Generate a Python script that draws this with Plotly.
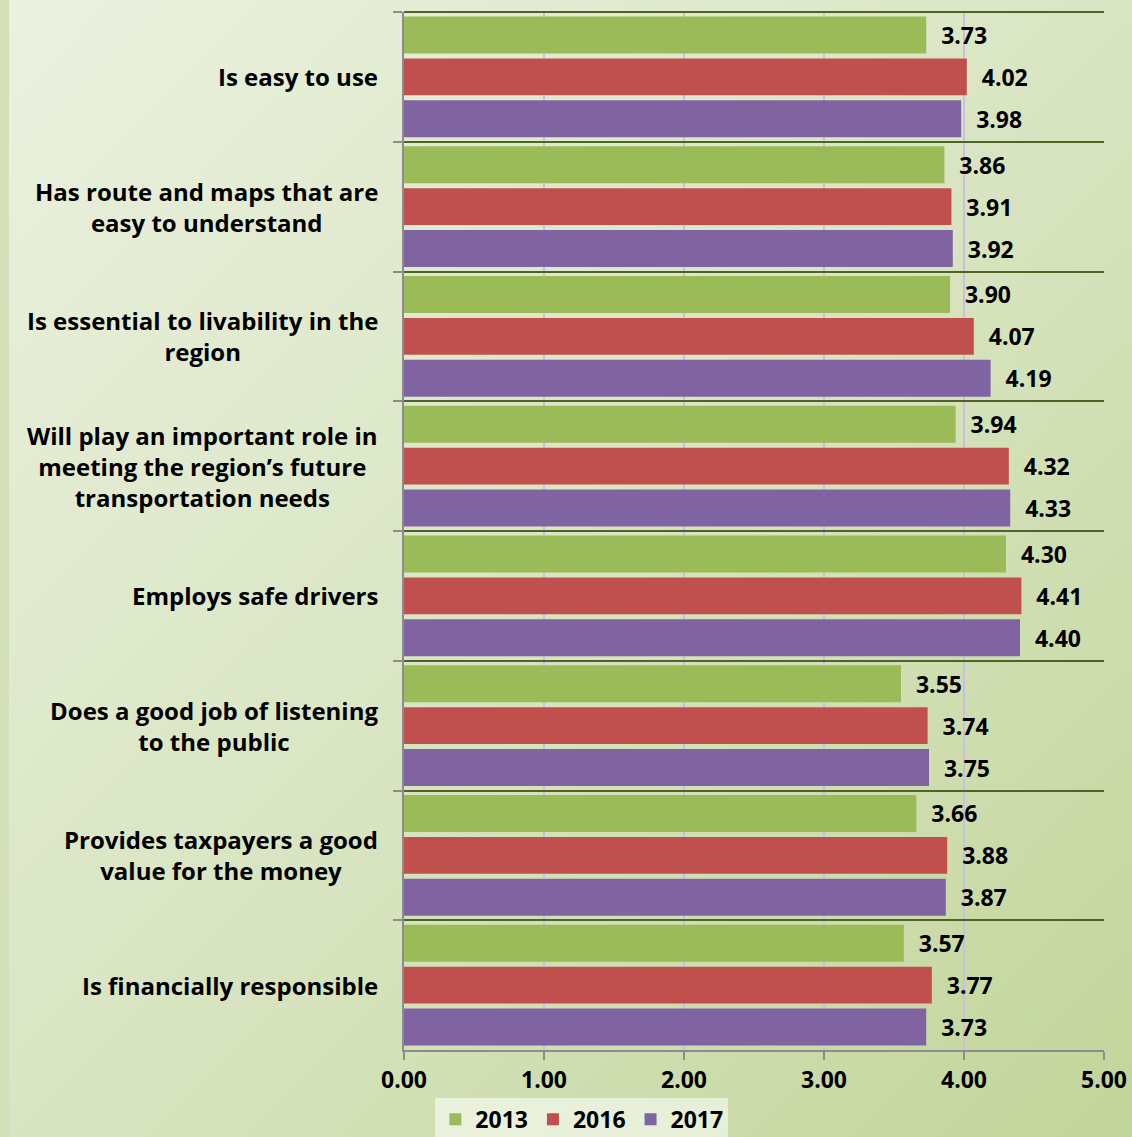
import base64
import plotly.graph_objects as go

# survey statements, top to bottom
categories = [
    "Is easy to use",
    "Has route and maps that are<br>easy to understand",
    "Is essential to livability in the<br>region",
    "Will play an important role in<br>meeting the region’s future<br>transportation needs",
    "Employs safe drivers",
    "Does a good job of listening<br>to the public",
    "Provides taxpayers a good<br>value for the money",
    "Is financially responsible",
]
keys = ["c%d" % i for i in range(len(categories))]

vals_2013 = [3.73, 3.86, 3.90, 3.94, 4.30, 3.55, 3.66, 3.57]
vals_2016 = [4.02, 3.91, 4.07, 4.32, 4.41, 3.74, 3.88, 3.77]
vals_2017 = [3.98, 3.92, 4.19, 4.33, 4.40, 3.75, 3.87, 3.73]

x_ticks = [0, 1, 2, 3, 4, 5]

FONT = "Open Sans"
W, H = 1132, 1137
L, R, T, B = 404, 28, 12, 87

series = [
    ("2013", vals_2013, "#9bbb59"),
    ("2016", vals_2016, "#c0504d"),
    ("2017", vals_2017, "#8064a2"),
]

fig = go.Figure()
for name, vals, col in series:
    fig.add_trace(go.Bar(
        y=keys, x=vals, name=name, orientation="h",
        marker=dict(color=col, line=dict(width=0)),
        text=vals, texttemplate="\u00a0\u00a0%{x:.2f}", textposition="outside",
        textfont=dict(family=FONT, size=23, color="black", weight="bold"),
        cliponaxis=False,
    ))

# category labels, centred lines, right aligned block
for k, lab in zip(keys, categories):
    fig.add_annotation(x=0, xref="paper", y=k, yref="y", text=lab,
                       xanchor="right", align="center", xshift=-24,
                       showarrow=False,
                       font=dict(family=FONT, size=24, color="black", weight="bold"))

# gradient background
svg = (
    '<svg xmlns="http://www.w3.org/2000/svg" width="1132" height="1137" preserveAspectRatio="none">'
    '<defs><linearGradient id="g" x1="0" y1="0" x2="1" y2="1">'
    '<stop offset="0" stop-color="#ebf1e0"/><stop offset="0.5" stop-color="#d9e5c2"/>'
    '<stop offset="1" stop-color="#c2d59a"/></linearGradient></defs>'
    '<rect width="1132" height="1137" fill="url(#g)"/>'
    '<rect width="9" height="1137" fill="#d3e0b8"/></svg>'
)
src = "data:image/svg+xml;base64," + base64.b64encode(svg.encode()).decode()
pw, ph = W - L - R, H - T - B
fig.add_layout_image(source=src, xref="paper", yref="paper",
                     x=-L / pw, y=1 + T / ph, sizex=W / pw, sizey=H / ph,
                     xanchor="left", yanchor="top", sizing="stretch", layer="below")

# dark top border like the category separators
fig.add_shape(type="line", xref="paper", yref="paper", x0=0, x1=1, y0=1, y1=1,
              line=dict(color="#4f6228", width=2))

fig.update_layout(
    width=W, height=H,
    margin=dict(l=L, r=R, t=T, b=B, autoexpand=False),
    paper_bgcolor="#d6e3bd", plot_bgcolor="rgba(0,0,0,0)",
    barmode="group", bargap=0.03, bargroupgap=0.12,
    font=dict(family=FONT, size=23, color="black", weight="bold"),
    showlegend=True,
    legend=dict(orientation="h", xref="container", yref="container",
                x=0.514, y=0.0345, xanchor="center", yanchor="top",
                bgcolor="rgba(255,255,255,0.55)",
                font=dict(family=FONT, size=23, color="black", weight="bold"),
                itemwidth=30, tracegroupgap=0),
)
fig.update_xaxes(
    range=[0, 5], tickvals=x_ticks, tickformat=".2f",
    showgrid=True, gridcolor="#cbbfdf", gridwidth=2,
    showline=True, linecolor="#8c8c8c", linewidth=2,
    ticks="outside", ticklen=8, tickwidth=2, tickcolor="#8c8c8c",
    tickfont=dict(family=FONT, size=23, color="black", weight="bold"),
    zeroline=False, fixedrange=True, automargin=False,
)
fig.update_yaxes(
    autorange="reversed", type="category", tickson="boundaries",
    showticklabels=False,
    showgrid=True, gridcolor="#4f6228", gridwidth=2,
    showline=True, linecolor="#8c8c8c", linewidth=2,
    ticks="outside", ticklen=9, tickwidth=2, tickcolor="#8c8c8c",
    zeroline=False, automargin=False,
)

fig.write_html(
    "out.html",
    config={"displayModeBar": False},
    post_script=("document.body.style.margin='0';"
                 "document.body.style.overflow='hidden';"
                 "document.documentElement.style.overflow='hidden';"),
)
